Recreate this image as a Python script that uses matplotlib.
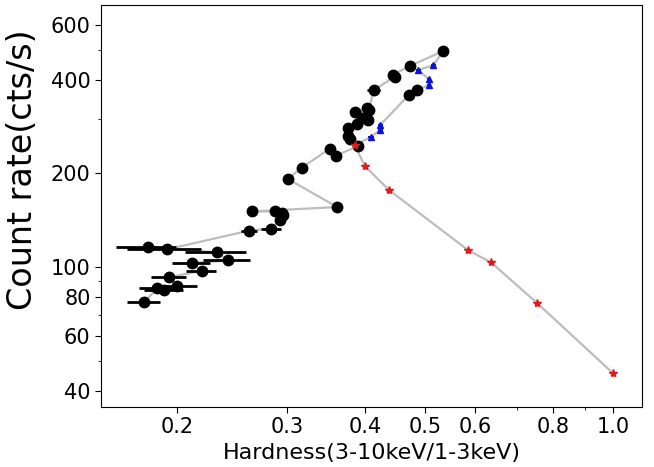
import matplotlib
matplotlib.use("Agg")
import matplotlib.pyplot as plt
from matplotlib.ticker import FixedLocator, NullFormatter

# Black circles (with hardness errors), in time order
black_x = [0.177, 0.186, 0.1906, 0.2002, 0.194, 0.219, 0.211, 0.241, 0.232, 0.1795, 0.1925,
           0.261, 0.283, 0.292, 0.296, 0.294, 0.287, 0.264, 0.361, 0.301, 0.317, 0.351, 0.359,
           0.390, 0.378, 0.376, 0.376, 0.389, 0.405, 0.395, 0.386, 0.403, 0.406, 0.413,
           0.447, 0.443, 0.472, 0.534]
black_y = [77.3, 85.4, 84.3, 87.1, 92.7, 97.3, 103, 105, 111.5, 116, 114,
           131, 133, 142, 147, 149, 151, 151, 156, 192, 209, 240, 228,
           245, 259, 264, 280, 288, 297, 301, 316, 324, 320, 371,
           409, 415, 443, 495]
black_xerr = [0.011, 0.012, 0.0135, 0.0154, 0.0126, 0.012, 0.015, 0.021, 0.026, 0.020, 0.026,
              0.008, 0.010, 0.004, 0.004, 0.004, 0.005, 0.005, 0.004, 0.004, 0.004, 0.004, 0.004,
              0.004, 0.004, 0.004, 0.004, 0.004, 0.004, 0.004, 0.008, 0.004, 0.004, 0.010,
              0.004, 0.004, 0.004, 0.004]

# Black points seen in the later part of the track
black2_x = [0.484, 0.470]
black2_y = [371, 357]

# Blue triangles
blue_x = [0.515, 0.487, 0.507, 0.507, 0.423, 0.423, 0.409]
blue_y = [446, 430, 401, 385, 286, 276, 262]

# Red stars
red_x = [0.385, 0.400, 0.437, 0.585, 0.637, 0.754, 1.0]
red_y = [247, 211, 177, 113.4, 103.5, 76.8, 45.5]

x_major = [0.2, 0.3, 0.4, 0.5, 0.6, 0.8, 1.0]
x_labels = ["0.2", "0.3", "0.4", "0.5", "0.6", "0.8", "1.0"]
x_minor = [0.7, 0.9]
y_major = [40, 60, 80, 100, 200, 400, 600]
y_labels = ["40", "60", "80", "100", "200", "400", "600"]
y_minor = [50, 70, 90, 300, 500]

fig = plt.figure(figsize=(6.54, 4.67), dpi=100)
ax = fig.add_axes([0.1544, 0.1285, 0.8273, 0.8608])

# gray track through all points in time order
track_x = black_x + blue_x[:4] + black2_x + blue_x[4:] + red_x
track_y = black_y + blue_y[:4] + black2_y + blue_y[4:] + red_y
ax.plot(track_x, track_y, color="#bdbdbd", lw=1.6, zorder=1)

ax.errorbar(black_x, black_y, xerr=black_xerr, fmt="o", color="black", ms=7.5,
            elinewidth=2, capsize=0, zorder=3)
ax.errorbar(black2_x, black2_y, xerr=[0.004] * len(black2_x), fmt="o", color="black", ms=7.5,
            elinewidth=2, capsize=0, zorder=3)
ax.errorbar(blue_x, blue_y, xerr=[0.004] * len(blue_x), fmt="^", color="#0a14d8", ms=5,
            elinewidth=1.5, capsize=0, zorder=3)
ax.plot(red_x, red_y, "*", color="#e31a1c", ms=6, zorder=4, linestyle="none")

ax.set_xscale("log")
ax.set_yscale("log")
ax.set_xlim(0.151, 1.112)
ax.set_ylim(35.5, 696)

ax.xaxis.set_major_locator(FixedLocator(x_major))
ax.set_xticklabels(x_labels)
ax.xaxis.set_minor_locator(FixedLocator(x_minor))
ax.xaxis.set_minor_formatter(NullFormatter())
ax.yaxis.set_major_locator(FixedLocator(y_major))
ax.set_yticklabels(y_labels)
ax.yaxis.set_minor_locator(FixedLocator(y_minor))
ax.yaxis.set_minor_formatter(NullFormatter())

ax.tick_params(axis="both", which="major", labelsize=15, length=4)
ax.tick_params(axis="both", which="minor", length=2.5)

ax.set_xlabel("Hardness(3-10keV/1-3keV)", fontsize=16, labelpad=4)
ax.set_ylabel("Count rate(cts/s)", fontsize=24)
ax.yaxis.set_label_coords(-0.115, 0.59)

fig.savefig("out.png", dpi=100)
